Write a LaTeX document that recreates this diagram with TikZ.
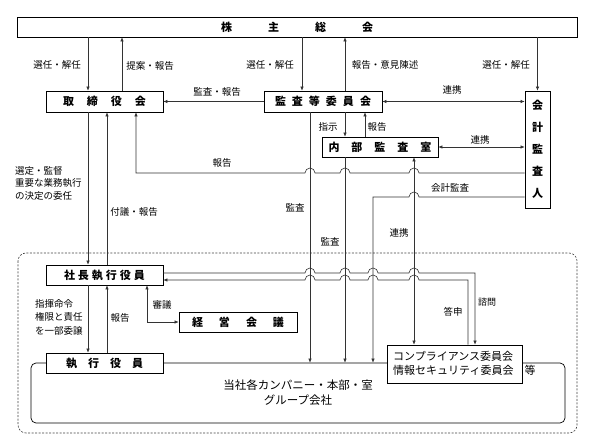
\documentclass[tikz,border=0pt]{standalone}
\usepackage{fontspec}
\setmainfont{Noto Sans CJK JP}
\usetikzlibrary{arrows.meta}

\begin{document}
\begin{tikzpicture}[x=1pt,y=-1pt,
    >={Latex[length=4pt,width=3.5pt]},
    box/.style={draw, fill=white, line width=0.7pt, inner sep=0pt,
      font=\bfseries\fontsize{11}{13}\selectfont},
    lbl/.style={inner sep=1pt, font=\fontsize{9.5}{13.5}\selectfont},
    con/.style={line width=0.6pt, black!80}]
    % 画像サイズに合わせた外枠
    \useasboundingbox (0,0) rectangle (594,446);
    % 飛び越し（ホップ）の半径
    \def\h{5pt}

    % 点線の枠（執行側）
    \draw[black!75, line width=0.6pt, dash pattern=on 2pt off 1.5pt, rounded corners=8pt]
      (18,253) rectangle (577,433);

    % 当社各カンパニー・グループ会社
    \node[draw, line width=0.7pt, rounded corners=5pt, minimum width=534pt, minimum height=60pt,
      align=center, font=\fontsize{11.5}{15}\selectfont] (G) at (298,393)
      {当社各カンパニー・本部・室\\グループ会社};

    % 各機関のボックス
    \node[box, minimum width=560pt, minimum height=20pt] (S) at (297,27)
      {株\hspace{36pt}主\hspace{36pt}総\hspace{36pt}会};
    \node[box, minimum width=117pt, minimum height=21pt] (T) at (104.5,101.5)
      {取\hspace{13pt}締\hspace{13pt}役\hspace{13pt}会};
    \node[box, minimum width=118pt, minimum height=21pt] (K) at (323,101.5)
      {監\hspace{6pt}査\hspace{6pt}等\hspace{6pt}委\hspace{6pt}員\hspace{6pt}会};
    \node[box, minimum width=25pt, minimum height=117pt, align=center,
      font=\bfseries\fontsize{11}{22}\selectfont] (A) at (537.5,149.5)
      {会\\計\\監\\査\\人};
    \node[box, minimum width=116pt, minimum height=20pt] (N) at (380,147)
      {内\hspace{12pt}部\hspace{12pt}監\hspace{12pt}査\hspace{12pt}室};
    \node[box, minimum width=117pt, minimum height=20pt] (P) at (104.5,275)
      {社\hspace{3pt}長\hspace{3pt}執\hspace{3pt}行\hspace{3pt}役\hspace{3pt}員};
    \node[box, minimum width=118pt, minimum height=20pt] (M) at (238,322)
      {経\hspace{16pt}営\hspace{16pt}会\hspace{16pt}議};
    \node[box, minimum width=117pt, minimum height=20pt] (E) at (104.5,363)
      {執\hspace{11pt}行\hspace{11pt}役\hspace{11pt}員};
    \node[draw, fill=white, line width=0.7pt, minimum width=135pt, minimum height=38pt] (C) at (454.5,364) {};
    \node[anchor=west, inner sep=0pt, align=left, font=\fontsize{11}{14}\selectfont] (Ct) at (393,363)
      {コンプライアンス委員会\\情報セキュリティ委員会　等};

    % 株主総会との関係
    \draw[con,->] (S.south -| 88,0) -- (T.north -| 88,0);
    \draw[con,->] (T.north -| 122,0) -- (S.south -| 122,0);
    \draw[con,->] (S.south -| 302,0) -- (K.north -| 302,0);
    \draw[con,->] (K.north -| 345,0) -- (S.south -| 345,0);
    \draw[con,->] (S.south -| A.north) -- (A.north);

    % 監査等委員会・内部監査室・会計監査人
    \draw[con,->] (K.west) -- (T.east);
    \draw[con,<->] (K.east) -- (A.west |- K.east);
    \draw[con,->] (K.south -| 345,0) -- (N.north -| 345,0);
    \draw[con,->] (N.north -| 365,0) -- (K.south -| 365,0);
    \draw[con,<->] (N.east) -- (A.west |- N.east);

    % 会計監査人から取締役会への報告（ホップ付き）
    \draw[con,->] (A.west |- 0,173) -- (419,173) arc[start angle=0,end angle=180,radius=\h]
      -- (350,173) arc[start angle=0,end angle=180,radius=\h]
      -- (315,173) arc[start angle=0,end angle=180,radius=\h]
      -- (136,173) -- (T.south -| 136,0);

    % 監査・会計監査
    \draw[con,->] (K.south -| 310,0) -- (G.north -| 310,0);
    \draw[con,->] (N.south -| 345,0) -- (G.north -| 345,0);
    \draw[con,->] (A.west |- 0,197) -- (419,197) arc[start angle=0,end angle=180,radius=\h]
      -- (373,197) -- (G.north -| 373,0);
    \draw[con,<->] (N.south -| 414,0) -- (C.north -| 414,0);

    % 取締役会と社長執行役員
    \draw[con,->] (T.south -| 88,0) -- (P.north -| 88,0);
    \draw[con,->] (P.north -| 107,0) -- (T.south -| 107,0);

    % 諮問・答申（ホップ付き）
    \draw[con,->] (P.east |- 0,273) -- (305,273) arc[start angle=180,end angle=0,radius=\h]
      -- (340,273) arc[start angle=180,end angle=0,radius=\h]
      -- (368,273) arc[start angle=180,end angle=0,radius=\h]
      -- (409,273) arc[start angle=180,end angle=0,radius=\h]
      -- (475,273) -- (C.north -| 475,0);
    \draw[con,->] (C.north -| 468,0) -- (468,280) -- (419,280) arc[start angle=0,end angle=180,radius=\h]
      -- (378,280) arc[start angle=0,end angle=180,radius=\h]
      -- (350,280) arc[start angle=0,end angle=180,radius=\h]
      -- (315,280) arc[start angle=0,end angle=180,radius=\h]
      -- (P.east |- 0,280);

    % 社長執行役員と執行役員・経営会議
    \draw[con,->] (P.south -| 88,0) -- (E.north -| 88,0);
    \draw[con,->] (E.north -| 107,0) -- (P.south -| 107,0);
    \draw[con,<->] (P.south -| 147,0) |- (M.west);

    % ラベル
    \node[lbl] (l1) at (57,65) {選任・解任};
    \node[lbl] (l2) at (150,66) {提案・報告};
    \node[lbl] (l3) at (217,92) {監査・報告};
    \node[lbl] (l4) at (270,65) {選任・解任};
    \node[lbl] (l5) at (385,65) {報告・意見陳述};
    \node[lbl] (l6) at (506,65) {選任・解任};
    \node[lbl] (l7) at (452,90) {連携};
    \node[lbl] (l8) at (328,127) {指示};
    \node[lbl] (l9) at (377,127) {報告};
    \node[lbl] (l10) at (480,140) {連携};
    \node[lbl] (l11) at (222,163) {報告};
    \node[lbl] (l12) at (450,188) {会計監査};
    \node[lbl, anchor=west, align=left, font=\fontsize{9.5}{12.5}\selectfont] (l13) at (14,183)
      {選定・監督\\重要な業務執行\\の決定の委任};
    \node[lbl] (l14) at (134,212) {付議・報告};
    \node[lbl] (l15) at (295,208) {監査};
    \node[lbl] (l16) at (330,242) {監査};
    \node[lbl] (l17) at (399,233) {連携};
    \node[lbl] (l18) at (162,305) {審議};
    \node[lbl, anchor=west, align=left, font=\fontsize{9.5}{13.5}\selectfont] (l19) at (34,317)
      {指揮命令\\権限と責任\\を一部委譲};
    \node[lbl] (l20) at (120,318) {報告};
    \node[lbl] (l21) at (453,312) {答申};
    \node[lbl, font=\fontsize{9}{11}\selectfont] (l22) at (487,302) {諮問};
\end{tikzpicture}
\end{document}
